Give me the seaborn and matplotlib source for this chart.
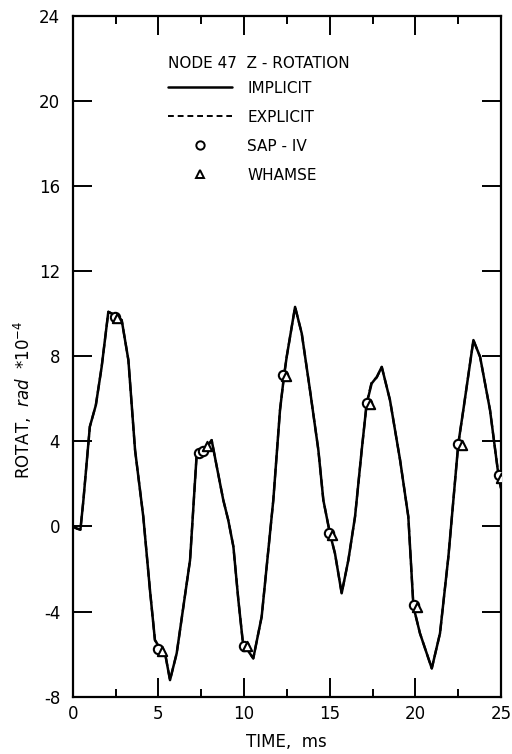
import matplotlib
matplotlib.use("Agg")
import matplotlib.pyplot as plt
from matplotlib.ticker import MultipleLocator
from matplotlib.lines import Line2D
import seaborn as sns
import pandas as pd

# ---- data ----
time = [0.0, 0.25, 0.45, 0.62, 1.0, 1.35, 1.69, 2.08, 2.47, 2.86, 3.25, 3.64, 4.12,
        4.51, 4.8, 5.1, 5.39, 5.68, 6.07, 6.85, 7.24, 7.45, 7.72, 8.11, 8.41, 8.79,
        9.08, 9.38, 9.67, 9.96, 10.2, 10.54, 11.03, 11.71, 12.1, 12.34, 12.49, 12.98,
        13.37, 13.85, 14.34, 14.63, 15.02, 15.31, 15.7, 16.09, 16.48, 16.87, 17.16,
        17.45, 17.75, 18.04, 18.52, 19.11, 19.59, 19.89, 20.27, 20.96, 21.44, 21.93,
        22.22, 22.51, 22.8, 23.39, 23.78, 24.36, 24.85, 25.0]
implicit = [0.0, -0.1, -0.15, 1.2, 4.69, 5.7, 7.5, 10.09, 9.93, 9.7, 7.82, 3.59, 0.46,
            -2.99, -5.34, -5.73, -5.96, -7.22, -5.96, -1.58, 3.43, 3.5, 3.59, 4.06, 2.81,
            1.24, 0.3, -0.95, -3.46, -5.65, -5.8, -6.2, -4.24, 1.24, 5.47, 7.11, 7.97,
            10.32, 9.07, 6.41, 3.59, 1.24, -0.35, -1.27, -3.14, -1.58, 0.46, 3.59, 5.78,
            6.72, 7.03, 7.5, 5.94, 3.12, 0.46, -3.77, -5.02, -6.67, -5.02, -1.42, 1.24,
            3.9, 5.47, 8.76, 7.97, 5.47, 2.42, 1.8]
explicit = [0.0, -0.1, -0.15, 1.2, 4.69, 5.7, 7.5, 10.09, 9.93, 9.7, 7.82, 3.59, 0.46,
            -2.99, -5.34, -5.73, -5.96, -7.22, -5.96, -1.58, 3.43, 3.5, 3.59, 4.06, 2.81,
            1.24, 0.3, -0.95, -3.46, -5.65, -5.8, -6.2, -4.24, 1.24, 5.47, 7.11, 7.97,
            10.32, 9.07, 6.41, 3.59, 1.24, -0.35, -1.27, -3.14, -1.58, 0.46, 3.59, 5.78,
            6.8, 7.0, 7.5, 5.94, 3.12, 0.46, -3.77, -5.02, -6.67, -5.02, -1.42, 1.24,
            3.9, 5.47, 8.76, 7.97, 5.47, 2.42, 1.8]
sap_time = [2.45, 5.0, 7.35, 7.6, 10.0, 12.3, 14.95, 17.15, 19.9, 22.5, 24.9]
sap_val = [9.85, -5.75, 3.45, 3.55, -5.6, 7.1, -0.3, 5.8, -3.7, 3.9, 2.4]
whamse_time = [2.6, 5.2, 7.85, 10.15, 12.45, 15.15, 17.35, 20.1, 22.7, 25.0]
whamse_val = [9.8, -5.85, 3.8, -5.6, 7.05, -0.4, 5.75, -3.8, 3.85, 2.3]

x_ticks = [0, 5, 10, 15, 20, 25]
y_ticks = [-8, -4, 0, 4, 8, 12, 16, 20, 24]
legend_title = "NODE 47  Z - ROTATION"
series_labels = ["IMPLICIT", "EXPLICIT", "SAP - IV", "WHAMSE"]

sns.set_theme(style="ticks")
plt.rcParams["font.family"] = ["DejaVu Sans"]
plt.rcParams["axes.unicode_minus"] = False
plt.rcParams["text.color"] = "black"
plt.rcParams["axes.labelcolor"] = "black"
plt.rcParams["xtick.color"] = "black"
plt.rcParams["ytick.color"] = "black"

fig = plt.figure(figsize=(5.12, 7.54), dpi=100)
ax = fig.add_axes([0.142, 0.076, 0.8365, 0.903])

df = pd.DataFrame({"t": time, "imp": implicit, "exp": explicit})
sns.lineplot(data=df, x="t", y="exp", ax=ax, color="black", lw=1.6,
             linestyle=(0, (4, 2)), sort=False)
sns.lineplot(data=df, x="t", y="imp", ax=ax, color="black", lw=1.8, sort=False)
sns.scatterplot(x=sap_time, y=sap_val, ax=ax, marker="o", s=45,
                facecolor="white", edgecolor="black", linewidth=1.5, zorder=5)
sns.scatterplot(x=whamse_time, y=whamse_val, ax=ax, marker="^", s=45,
                facecolor="white", edgecolor="black", linewidth=1.5, zorder=6)

ax.set_xlim(0, 25)
ax.set_ylim(-8, 24)
ax.set_xticks(x_ticks)
ax.set_yticks(y_ticks)
ax.set_xticklabels([str(v) for v in x_ticks])
ax.set_yticklabels([str(v) for v in y_ticks])
ax.xaxis.set_minor_locator(MultipleLocator(2.5))
for s in ax.spines.values():
    s.set_visible(True)
    s.set_linewidth(1.6)
    s.set_color("black")
ax.tick_params(which="major", direction="in", length=14, width=1.4,
               top=True, right=True, labelsize=12, colors="black")
ax.tick_params(axis="x", which="major", pad=6)
ax.tick_params(axis="y", which="major", pad=9)
ax.tick_params(axis="x", which="minor", direction="in", length=6, width=1.4,
               top=True, bottom=True)
ax.tick_params(axis="y", which="minor", left=False, right=False)

ax.set_xlabel("TIME,  ms", fontsize=12, color="black")
ax.set_ylabel(r"ROTAT,  $\it{rad}$  *10$^{-4}$", fontsize=12, color="black")
ax.xaxis.set_label_coords(0.5, -0.054)
ax.yaxis.set_label_coords(-0.09, 0.436)

ax.text(0.222, 0.9305, legend_title, transform=ax.transAxes, ha="left",
        va="center", fontsize=11, color="black")

handles = [
    Line2D([], [], color="black", lw=1.8),
    Line2D([], [], color="black", lw=1.4, linestyle=(0, (3, 2))),
    Line2D([], [], color="black", lw=0, marker="o", markersize=6,
           markerfacecolor="white", markeredgewidth=1.4),
    Line2D([], [], color="black", lw=0, marker="^", markersize=6,
           markerfacecolor="white", markeredgewidth=1.4),
]
leg = ax.legend(handles, series_labels, loc="upper left",
                bbox_to_anchor=(0.222, 0.905), frameon=False, fontsize=11,
                handlelength=4.2, handletextpad=1.0,
                labelspacing=0.92, borderpad=0, borderaxespad=0)
for t in leg.get_texts():
    t.set_color("black")

fig.savefig("out.png", dpi=100)
